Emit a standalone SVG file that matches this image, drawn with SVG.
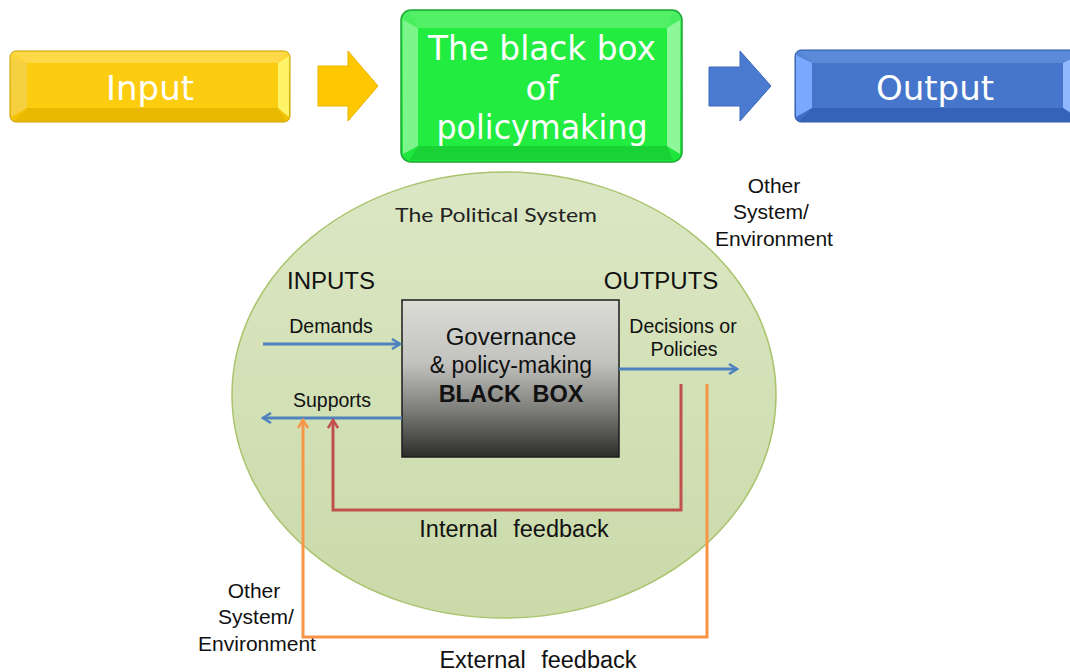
<svg xmlns="http://www.w3.org/2000/svg" width="1070" height="672" viewBox="0 0 1070 672">
<style>
.box-t{font-family:"DejaVu Sans","Liberation Sans",sans-serif;font-size:34px;fill:#ffffff;text-anchor:middle}
.ar{font-family:"Liberation Sans",Arial,sans-serif;fill:#111;text-anchor:middle}
.lbl{font-size:19.5px}
.hd{font-size:24px}
.env{font-size:21px}
.fb{font-size:23.5px;word-spacing:9px}
.blue{fill:none;stroke:#4f81bd;stroke-width:3}
.red{fill:none;stroke:#c0504d;stroke-width:3}
.orange{fill:none;stroke:#f79646;stroke-width:3}
</style>
<defs>
<linearGradient id="gY" x1="0" y1="0" x2="0" y2="1"><stop offset="0" stop-color="#ffd83c"/><stop offset="1" stop-color="#f2c000"/></linearGradient>
<linearGradient id="gG" x1="0" y1="0" x2="0" y2="1"><stop offset="0" stop-color="#4cef62"/><stop offset="1" stop-color="#1de63b"/></linearGradient>
<linearGradient id="gB" x1="0" y1="0" x2="0" y2="1"><stop offset="0" stop-color="#5585d6"/><stop offset="1" stop-color="#3c6cc4"/></linearGradient>
<linearGradient id="gEl" x1="0" y1="0" x2="0" y2="1"><stop offset="0" stop-color="#dbe7c4"/><stop offset="1" stop-color="#cadaa9"/></linearGradient>
<linearGradient id="gBox" x1="0" y1="0" x2="0" y2="1"><stop offset="0" stop-color="#dcdcd7"/><stop offset="0.4" stop-color="#c2c2bf"/><stop offset="0.7" stop-color="#7d7d7a"/><stop offset="1" stop-color="#2c2c2a"/></linearGradient>
<marker id="ahB" viewBox="0 0 12 12" refX="10" refY="6" markerWidth="12" markerHeight="12" markerUnits="userSpaceOnUse" orient="auto"><path d="M2,1 L10,6 L2,11" fill="none" stroke="#4f81bd" stroke-width="2.5"/></marker>
<marker id="ahR" viewBox="0 0 12 12" refX="10" refY="6" markerWidth="12" markerHeight="12" markerUnits="userSpaceOnUse" orient="auto"><path d="M2,1 L10,6 L2,11" fill="none" stroke="#c0504d" stroke-width="2.5"/></marker>
<marker id="ahO" viewBox="0 0 12 12" refX="10" refY="6" markerWidth="12" markerHeight="12" markerUnits="userSpaceOnUse" orient="auto"><path d="M2,1 L10,6 L2,11" fill="none" stroke="#f79646" stroke-width="2.5"/></marker>
</defs>
<rect width="1070" height="672" fill="#ffffff"/>

<g id="node-input">
<rect x="10" y="51" width="280" height="71" rx="6" fill="url(#gY)" stroke="#c9a000" stroke-width="1"/>
<polygon points="11,56 27,63 27,108 11,117" fill="#f5d040"/>
<polygon points="289,56 278,63 278,108 289,117" fill="#fff36a"/>
<polygon points="14,52 286,52 278,63 27,63" fill="#ffd947"/>
<polygon points="14,121 286,121 278,108 27,108" fill="#e8b900"/>
<rect x="27" y="63" width="251" height="45" fill="#fccc10"/>
<text class="box-t" x="150" y="100">Input</text>
</g>

<g id="node-blackbox-top">
<rect x="401" y="10" width="281" height="152" rx="10" fill="url(#gG)" stroke="#1ba834" stroke-width="1.5"/>
<polygon points="403,20 418,28 418,146 403,154" fill="#7cf58a"/>
<polygon points="680,20 667,28 667,146 680,154" fill="#8ef79a"/>
<polygon points="410,12 673,12 667,28 418,28" fill="#52f066"/>
<polygon points="410,160 673,160 667,146 418,146" fill="#19d236"/>
<rect x="418" y="28" width="249" height="118" fill="#22ec40"/>
<text class="box-t" x="542" y="60" textLength="228" lengthAdjust="spacingAndGlyphs">The black box</text>
<text class="box-t" x="542" y="100">of</text>
<text class="box-t" x="542" y="139" textLength="211" lengthAdjust="spacingAndGlyphs">policymaking</text>
</g>

<g id="node-output">
<rect x="795" y="50" width="285" height="72" rx="6" fill="url(#gB)" stroke="#2f58a0" stroke-width="1"/>
<polygon points="796,55 812,63 812,108 796,117" fill="#7aa8ff"/>
<polygon points="1078,55 1063,63 1063,108 1078,117" fill="#8fb8ff"/>
<polygon points="800,51 1078,51 1063,63 812,63" fill="#5a8ad8"/>
<polygon points="800,121 1078,121 1063,108 812,108" fill="#3563b8"/>
<rect x="812" y="63" width="251" height="45" fill="#4576cc"/>
<text class="box-t" x="935" y="100">Output</text>
</g>

<g id="node-political-system">
<ellipse cx="504" cy="395" rx="272" ry="223" fill="url(#gEl)" stroke="#a9c46e" stroke-width="1.5"/>
<text x="496" y="222" font-family="Lato,'Open Sans',sans-serif" font-size="20" fill="#222" text-anchor="middle" textLength="202" lengthAdjust="spacingAndGlyphs">The Political System</text>
</g>

<g id="node-governance">
<rect x="402" y="300" width="217" height="157" fill="url(#gBox)" stroke="#1c1c1c" stroke-width="1.5"/>
<text class="ar hd" x="511" y="345">Governance</text>
<text class="ar" x="511" y="373" font-size="23">&amp; policy-making</text>
<text class="ar" x="511" y="402" font-size="23.5" font-weight="bold" word-spacing="5">BLACK BOX</text>
</g>

<g id="labels">
<text class="ar hd" x="331" y="289">INPUTS</text>
<text class="ar hd" x="661" y="289">OUTPUTS</text>
<text class="ar lbl" x="331" y="333">Demands</text>
<text class="ar lbl" x="332" y="407">Supports</text>
<text class="ar lbl" x="683" y="333">Decisions or</text>
<text class="ar lbl" x="684" y="356">Policies</text>
<text class="ar fb" x="514" y="537">Internal feedback</text>
<text class="ar fb" x="538" y="668">External feedback</text>
</g>

<g id="node-env-top">
<text class="ar env" x="774" y="193">Other</text>
<text class="ar env" x="771" y="219">System/</text>
<text class="ar env" x="774" y="246">Environment</text>
</g>

<g id="node-env-bottom">
<text class="ar env" x="254" y="598">Other</text>
<text class="ar env" x="256" y="624">System/</text>
<text class="ar env" x="257" y="651">Environment</text>
</g>

<g id="connectors">
<polygon id="arrow-yellow" points="318,66 348,66 348,51 378,86 348,121 348,106 318,106" fill="#ffc700" stroke="#e9b400" stroke-width="1"/>
<polygon id="arrow-blue" points="709,67 740,67 740,51 771,86 740,121 740,106 709,106" fill="#4a7bd0" stroke="#3c68b8" stroke-width="1"/>
<line class="blue" x1="263" y1="344" x2="400" y2="344" marker-end="url(#ahB)"/>
<line class="blue" x1="402" y1="418" x2="263" y2="418" marker-end="url(#ahB)"/>
<line class="blue" x1="619" y1="369" x2="737" y2="369" marker-end="url(#ahB)"/>
<path class="red" d="M681,384 V510 H333 V420" marker-end="url(#ahR)"/>
<path class="orange" d="M707,384 V637 H303 V420" marker-end="url(#ahO)"/>
</g>
</svg>
